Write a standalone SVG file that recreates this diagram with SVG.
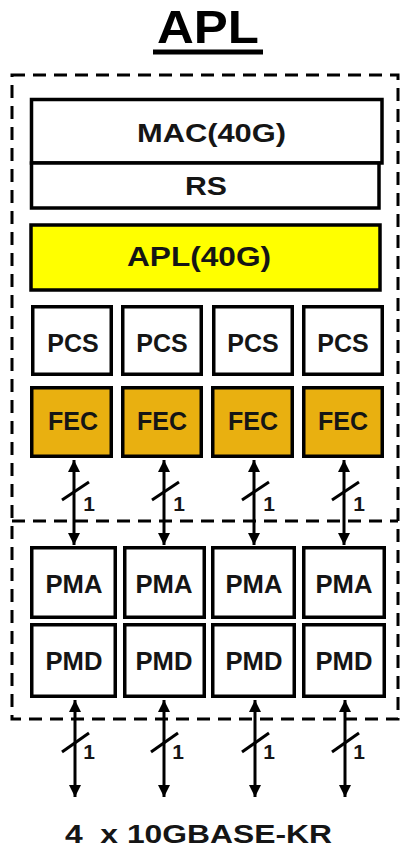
<svg xmlns="http://www.w3.org/2000/svg" width="401" height="847" viewBox="0 0 401 847">
<defs>
<style>
.box{fill:#fff;stroke:#000;stroke-width:3.5}
.yel{fill:#ffff00;stroke:#000;stroke-width:3.5}
.fec{fill:#e9b010;stroke:#000;stroke-width:3.5}
.t{font-family:"Liberation Sans",Arial,sans-serif;font-weight:bold;font-size:25px;text-anchor:middle;fill:#151515}
.n{font-family:"Liberation Sans",Arial,sans-serif;font-weight:bold;font-size:21px;text-anchor:middle;fill:#151515}
.dash{fill:none;stroke:#000;stroke-width:3;stroke-dasharray:13 8}
.ln{stroke:#000;stroke-width:3;fill:none}
</style>
<marker id="ah" viewBox="0 0 10 10" refX="10" refY="5" markerWidth="12" markerHeight="12" markerUnits="userSpaceOnUse" orient="auto-start-reverse">
<path d="M0,0 L10,5 L0,10 Z" fill="#000"/>
</marker>
</defs>
<rect width="401" height="847" fill="#fff"/>
<g id="title">
<text x="208" y="43" style="font-family:'Liberation Sans',Arial,sans-serif;font-weight:bold;font-size:46px;text-anchor:middle" textLength="102" lengthAdjust="spacingAndGlyphs">APL</text>
<rect x="153" y="49.5" width="110" height="5" fill="#000"/>
</g>
<g id="apl-boundary">
<rect class="dash" x="12" y="75" width="386" height="644"/>
<line class="dash" x1="12" y1="521" x2="398" y2="521"/>
</g>
<g id="mac"><rect class="box" x="31.5" y="99.5" width="350.5" height="63.5"/><text class="t" x="211.5" y="142" textLength="149" lengthAdjust="spacingAndGlyphs">MAC(40G)</text></g>
<g id="rs"><rect class="box" x="31.5" y="163" width="347.5" height="45"/><text class="t" x="206" y="195" textLength="42" lengthAdjust="spacingAndGlyphs">RS</text></g>
<g id="apl40g"><rect class="yel" x="31" y="225" width="349" height="65"/><text class="t" x="199" y="266" style="font-size:27px" textLength="144" lengthAdjust="spacingAndGlyphs">APL(40G)</text></g>
<g id="pcs1"><rect class="box" x="32.75" y="306.75" width="78.5" height="67.5"/><text class="t" x="73" y="352">PCS</text></g>
<g id="pcs2"><rect class="box" x="122.75" y="306.75" width="78.5" height="67.5"/><text class="t" x="162" y="352">PCS</text></g>
<g id="pcs3"><rect class="box" x="213.75" y="306.75" width="78.5" height="67.5"/><text class="t" x="253" y="352">PCS</text></g>
<g id="pcs4"><rect class="box" x="303.75" y="306.75" width="78.5" height="67.5"/><text class="t" x="343" y="352">PCS</text></g>
<g id="fec1"><rect class="fec" x="31.75" y="387.75" width="79.5" height="68.5"/><text class="t" x="73" y="430">FEC</text></g>
<g id="fec2"><rect class="fec" x="122.75" y="387.75" width="78.5" height="68.5"/><text class="t" x="162" y="430">FEC</text></g>
<g id="fec3"><rect class="fec" x="212.75" y="387.75" width="79.5" height="68.5"/><text class="t" x="253" y="430">FEC</text></g>
<g id="fec4"><rect class="fec" x="303.75" y="387.75" width="78.5" height="68.5"/><text class="t" x="343" y="430">FEC</text></g>
<g id="pma1"><rect class="box" x="31.75" y="547.75" width="83.5" height="69.5"/><text class="t" x="74" y="593" textLength="57" lengthAdjust="spacingAndGlyphs">PMA</text></g>
<g id="pma2"><rect class="box" x="124.75" y="547.75" width="79.5" height="69.5"/><text class="t" x="164" y="593" textLength="57" lengthAdjust="spacingAndGlyphs">PMA</text></g>
<g id="pma3"><rect class="box" x="212.75" y="547.75" width="81.5" height="69.5"/><text class="t" x="254" y="593" textLength="57" lengthAdjust="spacingAndGlyphs">PMA</text></g>
<g id="pma4"><rect class="box" x="303.75" y="547.75" width="80.5" height="69.5"/><text class="t" x="344" y="593" textLength="57" lengthAdjust="spacingAndGlyphs">PMA</text></g>
<g id="pmd1"><rect class="box" x="31.75" y="624.75" width="83.5" height="71.5"/><text class="t" x="74" y="670" textLength="57" lengthAdjust="spacingAndGlyphs">PMD</text></g>
<g id="pmd2"><rect class="box" x="124.75" y="624.75" width="79.5" height="71.5"/><text class="t" x="164" y="670" textLength="57" lengthAdjust="spacingAndGlyphs">PMD</text></g>
<g id="pmd3"><rect class="box" x="212.75" y="624.75" width="81.5" height="71.5"/><text class="t" x="254" y="670" textLength="57" lengthAdjust="spacingAndGlyphs">PMD</text></g>
<g id="pmd4"><rect class="box" x="303.75" y="624.75" width="80.5" height="71.5"/><text class="t" x="344" y="670" textLength="57" lengthAdjust="spacingAndGlyphs">PMD</text></g>
<g id="connectors">
<line class="ln" x1="74" y1="460" x2="74" y2="545" marker-start="url(#ah)" marker-end="url(#ah)"/>
<line class="ln" x1="164" y1="460" x2="164" y2="545" marker-start="url(#ah)" marker-end="url(#ah)"/>
<line class="ln" x1="254" y1="460" x2="254" y2="545" marker-start="url(#ah)" marker-end="url(#ah)"/>
<line class="ln" x1="344" y1="460" x2="344" y2="545" marker-start="url(#ah)" marker-end="url(#ah)"/>
<line class="ln" x1="62" y1="500" x2="89" y2="482"/>
<line class="ln" x1="152" y1="500" x2="179" y2="482"/>
<line class="ln" x1="242" y1="500" x2="269" y2="482"/>
<line class="ln" x1="332" y1="500" x2="359" y2="482"/>
<text class="n" x="89" y="511">1</text>
<text class="n" x="179" y="511">1</text>
<text class="n" x="269" y="511">1</text>
<text class="n" x="359" y="511">1</text>
<line class="ln" x1="75" y1="700" x2="75" y2="797" marker-start="url(#ah)" marker-end="url(#ah)"/>
<line class="ln" x1="164" y1="700" x2="164" y2="797" marker-start="url(#ah)" marker-end="url(#ah)"/>
<line class="ln" x1="255" y1="700" x2="255" y2="797" marker-start="url(#ah)" marker-end="url(#ah)"/>
<line class="ln" x1="345" y1="700" x2="345" y2="797" marker-start="url(#ah)" marker-end="url(#ah)"/>
<line class="ln" x1="62" y1="752" x2="89" y2="733"/>
<line class="ln" x1="151" y1="752" x2="178" y2="733"/>
<line class="ln" x1="242" y1="752" x2="269" y2="733"/>
<line class="ln" x1="332" y1="752" x2="359" y2="733"/>
<text class="n" x="89" y="759">1</text>
<text class="n" x="178" y="759">1</text>
<text class="n" x="269" y="759">1</text>
<text class="n" x="359" y="759">1</text>
</g>
<g id="footer"><text class="t" x="198.5" y="843" xml:space="preserve" style="white-space:pre" textLength="267" lengthAdjust="spacingAndGlyphs">4  x 10GBASE-KR</text></g>
</svg>
